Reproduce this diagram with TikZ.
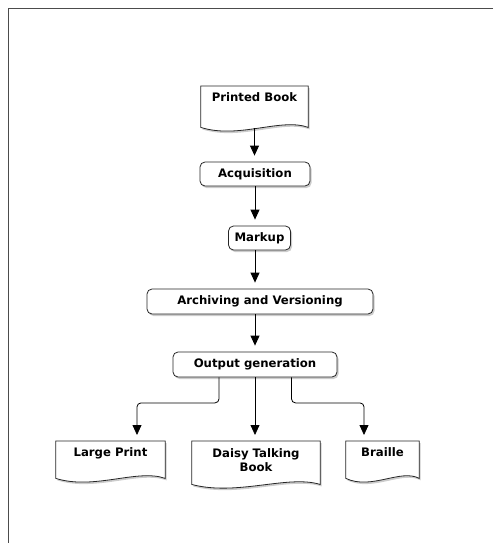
\documentclass[tikz,border=0pt]{standalone}
\usepackage{fontspec}
\setmainfont{DejaVu Sans}
\usetikzlibrary{positioning,calc,arrows.meta,shadows,backgrounds}

\newcommand\boxfont{\fontsize{11.7}{14}\selectfont\bfseries}

\tikzset{
  softshadow/.style={drop shadow={shadow xshift=1.5pt,shadow yshift=-2pt,opacity=0.4}},
  box/.style={draw=black!85, line width=0.8pt, rounded corners=5pt, fill=white,
    minimum height=24pt, inner sep=2pt, font=\boxfont, softshadow},
  doc/.style={anchor=north, inner xsep=2pt, inner ysep=7pt, text height=8.5pt,
    text depth=2.5pt, font=\boxfont, align=center},
  docshape/.style={draw=black!85, line width=0.8pt, fill=white, softshadow},
  arr/.style={-{Triangle[length=10pt,width=9pt]}, line width=0.8pt, shorten >=6pt},
  frame/.style={draw=black!70, line width=1.2pt}
}

\begin{document}
\begin{tikzpicture}[x=1pt,y=-1pt]
  \useasboundingbox (0,0) rectangle (493,543);

  % Frame
  \draw[frame] (493,8.5) -- (8.5,8.5) -- (8.5,543);

  % Source
  \node[doc, minimum width=107pt] (book) at (254.5,86) {Printed Book};

  % Processing steps
  \node[box, minimum width=110pt] (acq) at (255,174) {Acquisition};
  \node[box, minimum width=62pt] (markup) at (259.5,238) {Markup};
  \node[box, minimum width=226pt, minimum height=25pt] (arch) at (260,301.5) {Archiving and Versioning};
  \node[box, minimum width=164pt, minimum height=25pt] (gen) at (255,364.5) {Output generation};

  % Outputs
  \node[doc, minimum width=109pt] (large) at (110.5,441) {Large Print};
  \node[doc, minimum width=128pt, text height=, text depth=] (daisy) at (256,441) {Daisy Talking\\Book};
  \node[doc, minimum width=73pt] (braille) at (382.5,441) {Braille};

  % Document outlines
  \begin{scope}[on background layer]
    \foreach \n/\d in {book/16, large/12, daisy/6, braille/12}
      \draw[docshape] (\n.north west) -- (\n.north east) -- ($(\n.south east)+(0,\d)$)
        .. controls ($(\n.south west)!0.75!(\n.south east)+(0,\d-10)$)
        and ($(\n.south west)!0.35!(\n.south east)+(0,\d+12)$)
        .. ($(\n.south west)+(0,\d)$) -- cycle;
  \end{scope}
  \coordinate (bookwave) at ($(book.south)+(0,17)$);

  % Flow
  \draw[arr] (bookwave) -- (bookwave |- acq.north);
  \draw[arr] (acq.south) -- (acq.south |- markup.north);
  \draw[arr] (markup.south -| acq.south) -- (acq.south |- arch.north);
  \draw[arr] (arch.south -| gen.south) -- (gen.north);
  \draw[arr, rounded corners=4pt] ([xshift=-36pt]gen.south) -- ++(0,25.5) -| ([xshift=26.5pt]large.north);
  \draw[arr] (gen.south) -- (gen.south |- daisy.north);
  \draw[arr, rounded corners=4pt] ([xshift=36.5pt]gen.south) -- ++(0,25.5) -| ([xshift=-18.5pt]braille.north);
\end{tikzpicture}
\end{document}
